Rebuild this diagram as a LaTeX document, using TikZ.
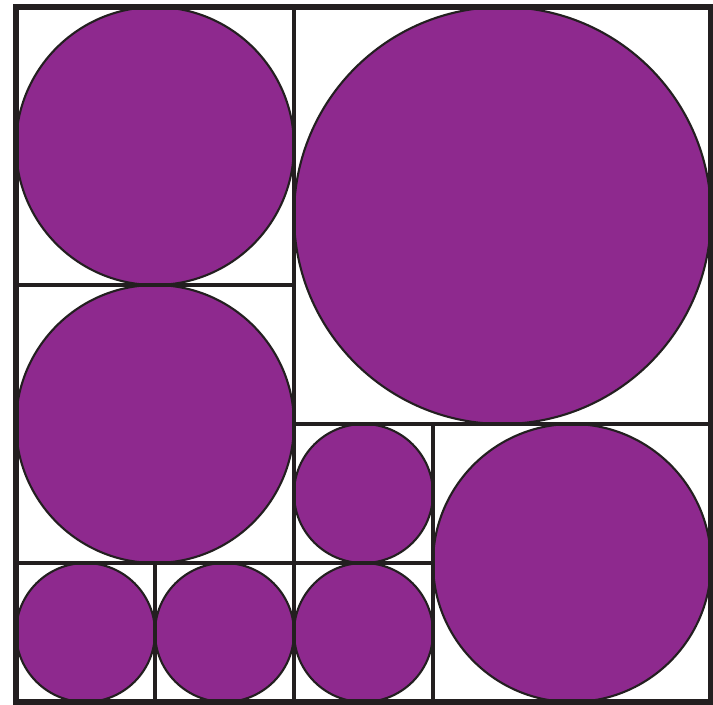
\documentclass[tikz,border=0pt]{standalone}
\definecolor{fillpurple}{HTML}{8E298E}
\definecolor{edgedark}{HTML}{231F20}
\begin{document}
\begin{tikzpicture}[
  x=1.39cm, y=-1.39cm,
  disc/.style={circle, inner sep=0pt, fill=fillpurple, draw=edgedark, line width=0.6pt},
  cell/.style={draw=edgedark, line width=1.2pt},
  frame/.style={draw=edgedark, line width=1.5pt}
]
\useasboundingbox (-0.1151,-0.0504) rectangle (5.0144,5.0144);
% discs
\node[disc, minimum size=2.78cm] (c1) at (1,1) {};
\node[disc, minimum size=2.78cm] (c2) at (1,3) {};
\node[disc, minimum size=4.17cm] (c3) at (3.5,1.5) {};
\node[disc, minimum size=1.39cm] (c4) at (2.5,3.5) {};
\node[disc, minimum size=2.78cm] (c5) at (4,4) {};
\node[disc, minimum size=1.39cm] (c6) at (0.5,4.5) {};
\node[disc, minimum size=1.39cm] (c7) at (1.5,4.5) {};
\node[disc, minimum size=1.39cm] (c8) at (2.5,4.5) {};
% cells
\draw[cell] (0,0) rectangle (2,2);
\draw[cell] (0,2) rectangle (2,4);
\draw[cell] (2,0) rectangle (5,3);
\draw[cell] (2,3) rectangle (3,4);
\draw[cell] (3,3) rectangle (5,5);
\draw[cell] (0,4) rectangle (1,5);
\draw[cell] (1,4) rectangle (2,5);
\draw[cell] (2,4) rectangle (3,5);
\draw[frame] (0,0) rectangle (5,5);
\end{tikzpicture}
\end{document}
